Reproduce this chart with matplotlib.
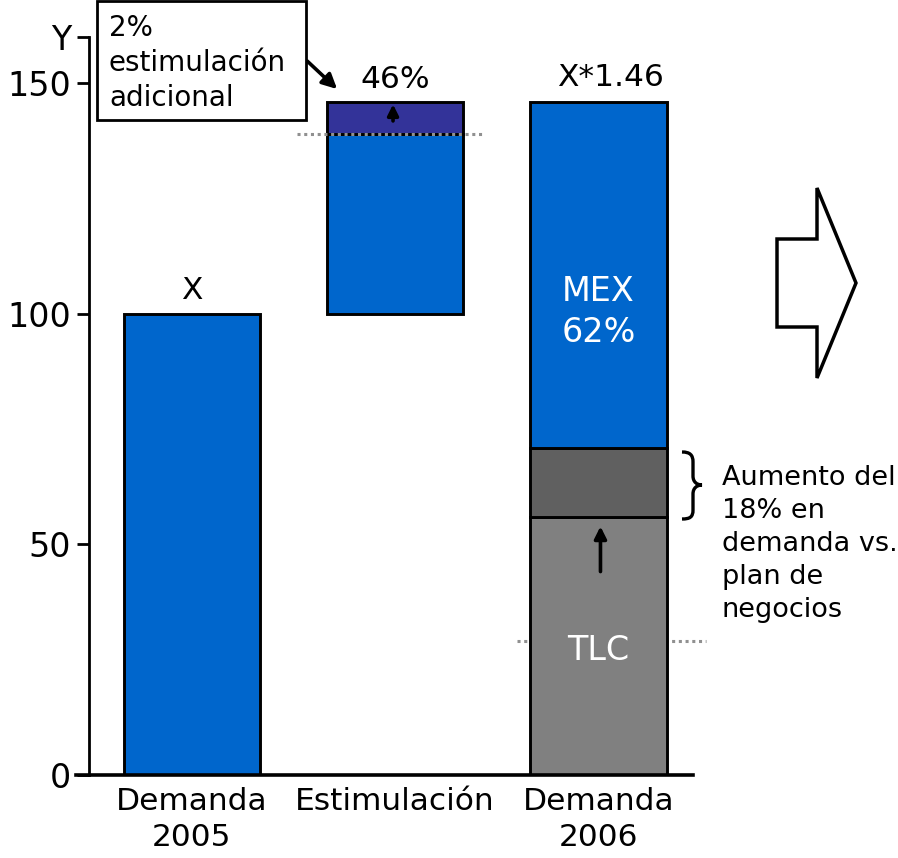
import numpy as np
import matplotlib
matplotlib.use('Agg')
import matplotlib.pyplot as plt
from matplotlib.patches import Polygon, Rectangle, PathPatch
from matplotlib.path import Path

# bar categories and stacked segments (bottom/top in index units, X = 100)
categories = ['Demanda\n2005', 'Estimulación', 'Demanda\n2006']
seg_pos = [0, 1, 1, 2, 2, 2]
seg_bottom = [0, 100, 139, 0, 56, 71]
seg_top = [100, 139, 146, 56, 71, 146]
seg_color = ['#0066CC', '#0066CC', '#333399', '#808080', '#606060', '#0066CC']

y_ticks = [0, 50, 100, 150, 160]
y_ticklabels = ['0', '50', '100', '150', 'Y']
top_labels = ['X', '46%', 'X*1.46']
top_values = [100, 146, 146]

plt.rcParams['font.family'] = 'DejaVu Sans'

W, H = 898, 858


def px(x, y):
    # pixel position (from top-left) -> figure fraction
    return x / W, 1 - y / H


fig = plt.figure(figsize=(W / 100, H / 100), dpi=100)
ax = fig.add_axes([89 / W, 83 / H, (693 - 89) / W, (775 - 37) / H])

heights = np.array(seg_top) - np.array(seg_bottom)
ax.bar(seg_pos, heights, bottom=seg_bottom, width=0.67, color=seg_color,
       edgecolor='black', linewidth=2.1, zorder=2)

ax.set_xlim(-0.505, 2.465)
ax.set_ylim(0, 160)
ax.set_yticks(y_ticks)
ax.set_yticklabels(y_ticklabels, fontsize=24)
ax.set_xticks(range(len(categories)))
ax.set_xticklabels(categories, fontsize=22.5, linespacing=1.3)
ax.tick_params(axis='y', length=9, width=2, pad=4)
ax.tick_params(axis='x', length=0, pad=9)
for s in ['top', 'right']:
    ax.spines[s].set_visible(False)
ax.spines['left'].set_linewidth(2)
ax.spines['bottom'].set_linewidth(2.6)
ax.spines['bottom'].set_bounds(-0.57, 2.465)

# value labels above bars
for i, (lab, v) in enumerate(zip(top_labels, top_values)):
    dx = 0.06 if i == 2 else 0
    dy = 1.6 if i == 1 else 2.0
    ax.text(i + dx, v + dy, lab, ha='center', va='bottom', fontsize=22.5)

# labels inside the 2006 bar
ax.text(2, 100.4, 'MEX\n62%', ha='center', va='center', color='white',
        fontsize=24, linespacing=1.3, zorder=4)
ax.text(2, 27, 'TLC', ha='center', va='center', color='white',
        fontsize=24, zorder=4)

# dotted reference lines
ax.plot([0.52, 1.44], [139, 139], ls=(0, (1, 1.2)), color='#909090', lw=2.2,
        zorder=3, clip_on=False)
ax.plot([1.6, 2.53], [29, 29], ls=(0, (1, 1.2)), color='#909090', lw=2.2,
        zorder=1, clip_on=False)

# small arrows
ax.annotate('', xy=(0.99, 146), xytext=(0.99, 141.2),
            arrowprops=dict(arrowstyle='-|>', color='black', lw=2.6,
                            mutation_scale=16), zorder=4)
ax.annotate('', xy=(2.01, 54.5), xytext=(2.01, 43.5),
            arrowprops=dict(arrowstyle='-|>', color='black', lw=2.6,
                            mutation_scale=18), zorder=4)

# callout box with arrow
x0, y1 = px(97, 120)
x1, y0 = px(306, 1)
fig.patches.append(Rectangle((x0, y1), x1 - x0, y0 - y1, facecolor='white',
                             edgecolor='black', linewidth=2,
                             transform=fig.transFigure, figure=fig))
fig.text(*px(109, 63), '2%\nestimulación\nadicional', fontsize=20,
         ha='left', va='center', linespacing=1.33)
ax.annotate('', xy=(0.725, 148.3), xytext=(0.558, 155.2),
            arrowprops=dict(arrowstyle='-|>', color='black', lw=2.6,
                            mutation_scale=22), annotation_clip=False)

# curly brace next to the dark gray segment
brace = [(682, 452), (690, 452), (693, 455), (693, 462), (693, 476),
         (693, 482), (697, 485), (702, 485), (697, 485), (693, 488),
         (693, 494), (693, 510), (693, 517), (690, 519), (682, 519)]
codes = [Path.MOVETO] + [Path.CURVE4] * 3 + [Path.LINETO] + [Path.CURVE4] * 6 \
    + [Path.LINETO] + [Path.CURVE4] * 3
fig.patches.append(PathPatch(Path([px(*p) for p in brace], codes),
                             facecolor='none', edgecolor='black', linewidth=2.4,
                             transform=fig.transFigure, figure=fig))
fig.text(*px(722, 544),
         'Aumento del\n18% en\ndemanda vs.\nplan de\nnegocios',
         fontsize=19.5, ha='left', va='center', linespacing=1.34)

# outline arrow on the right
arrow_pts = [(777, 239), (817, 239), (817, 188), (856, 283),
             (817, 378), (817, 327), (777, 327)]
fig.patches.append(Polygon([px(*p) for p in arrow_pts], closed=True,
                           facecolor='white', edgecolor='black', linewidth=2.5,
                           transform=fig.transFigure, figure=fig))

fig.savefig('out.png', dpi=100)
